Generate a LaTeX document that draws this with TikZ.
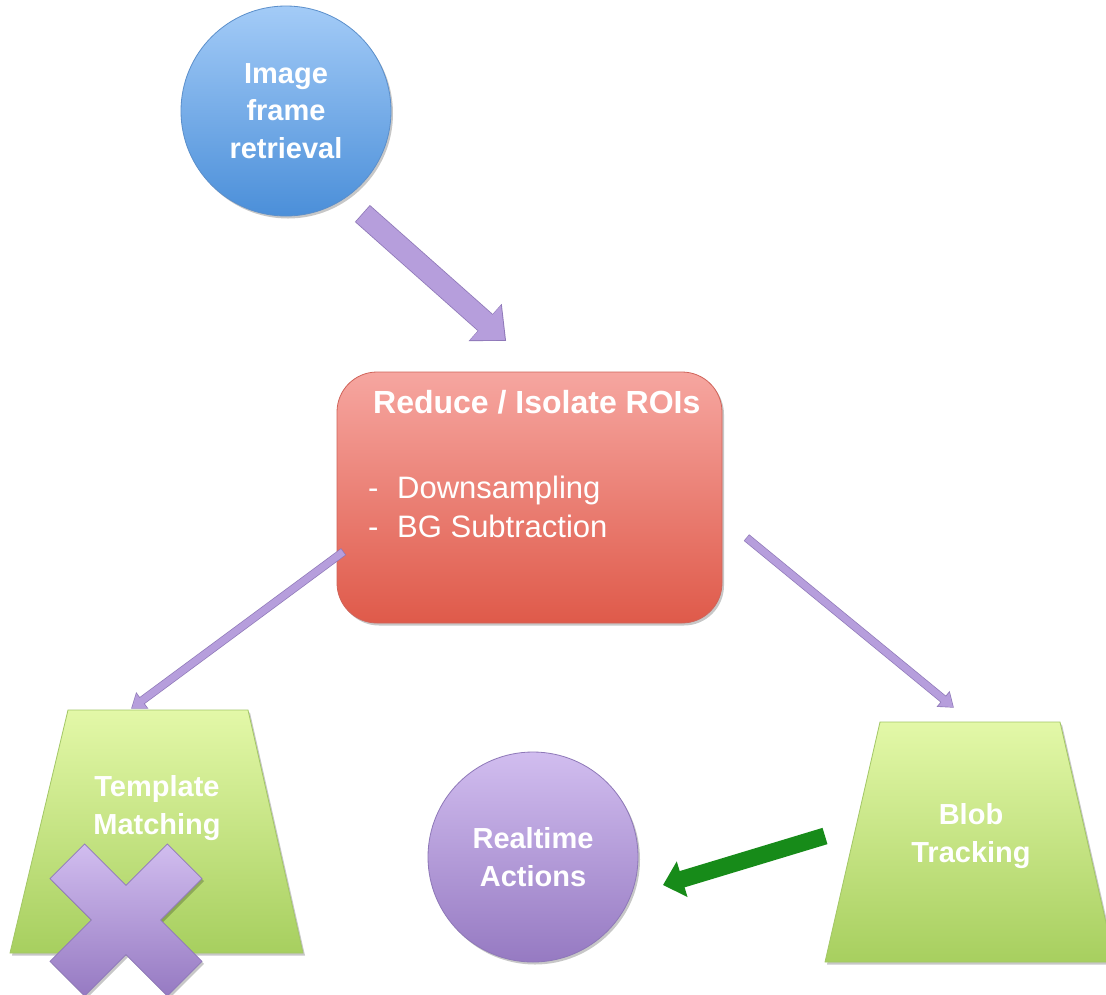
\documentclass[tikz,border=0pt]{standalone}
\usepackage{fontspec}
\setmainfont{Liberation Sans}
\usetikzlibrary{arrows.meta,shapes.geometric,shadows}
\definecolor{bluetop}{HTML}{A3CBF7}
\definecolor{bluebot}{HTML}{4B8FD9}
\definecolor{blueedge}{HTML}{5B8FCB}
\definecolor{redtop}{HTML}{F6A6A0}
\definecolor{redbot}{HTML}{DF5A4A}
\definecolor{rededge}{HTML}{D0645A}
\definecolor{greentop}{HTML}{E3F8A8}
\definecolor{greenbot}{HTML}{A7CF5F}
\definecolor{greenedge}{HTML}{A3C766}
\definecolor{purptop}{HTML}{D1BDEF}
\definecolor{purpbot}{HTML}{967AC2}
\definecolor{purpedge}{HTML}{8E78B8}
\definecolor{arrowpurp}{HTML}{B69EDC}
\definecolor{arrowgreen}{HTML}{178B19}
\definecolor{greenarrowedge}{HTML}{2E6E2A}
\begin{document}
\begin{tikzpicture}[x=1pt,y=-1pt,
  softshadow/.style={drop shadow={shadow xshift=2pt,shadow yshift=-2.5pt,opacity=0.22,fill=black}},
  lbl/.style={text=white,font=\fontsize{29}{37.7}\selectfont\bfseries,align=center},
  roitxt/.style={text=white,inner sep=0pt,anchor=base west,font=\fontsize{31}{37}\selectfont},
  bigarrow/.style={preaction={draw=purpedge,line width=22.6pt,-{Triangle[width=48pt,length=28pt]},shorten >=-1.5pt,shorten <=-0.8pt},
     line width=21pt,arrowpurp,-{Triangle[width=45pt,length=26pt]}},
  thinarrow/.style={preaction={draw=purpedge,line width=8.4pt,-{Triangle[width=19.5pt,length=14pt]},shorten >=-1.2pt,shorten <=-0.7pt},
     line width=7pt,arrowpurp,-{Triangle[width=17pt,length=12pt]}},
  greenarrow/.style={line width=17pt,arrowgreen,-{Triangle[width=36pt,length=20pt]}}]
\useasboundingbox[fill=white] (0,0) rectangle (1106,994);

% image frame retrieval
\node[circle,minimum size=210pt,inner sep=0pt,top color=bluetop,bottom color=bluebot,
      draw=blueedge,line width=0.8pt,softshadow,lbl] (img) at (286,111) {Image\\frame\\retrieval};

% reduce box
\node[rectangle,rounded corners=40pt,minimum width=385pt,minimum height=251pt,
      top color=redtop,bottom color=redbot,draw=rededge,line width=0.8pt,softshadow] (roi) at (529.5,497.5) {};
\node[roitxt,font=\fontsize{32}{37}\selectfont\bfseries] (roititle) at (373,413) {Reduce / Isolate ROIs};
\node[roitxt] (d1) at (368,498) {-};
\node[roitxt] (b1) at (397,498) {Downsampling};
\node[roitxt] (d2) at (368,537) {-};
\node[roitxt] (b2) at (397,537) {BG Subtraction};

% trapezoids
\path[top color=greentop,bottom color=greenbot,draw=greenedge,line width=0.8pt,softshadow]
  (68,710) -- (248,710) -- (303,953) -- (10,953) -- cycle;
\node[lbl] (tm) at (157,808) {Template\\Matching};
\coordinate (tmtop) at (132,708);

\path[top color=greentop,bottom color=greenbot,draw=greenedge,line width=0.8pt,softshadow]
  (880,722) -- (1060,722) -- (1115,962) -- (825,962) -- cycle;
\node[lbl] (bt) at (971,836) {Blob\\Tracking};
\coordinate (bttop) at (953,707);

% realtime actions
\node[circle,minimum size=210pt,inner sep=0pt,top color=purptop,bottom color=purpbot,
      draw=purpedge,line width=0.8pt,softshadow,lbl] (rt) at (533,857) {Realtime\\Actions};

% cross
\path[top color=purptop,bottom color=purpbot,draw=purpedge,line width=0.8pt,softshadow]
  (126,885.4) -- (167.4,844) -- (202,878.6) -- (160.6,920) -- (202,961.4) -- (167.4,996)
  -- (126,954.6) -- (84.6,996) -- (50,961.4) -- (91.4,920) -- (50,878.6) -- (84.6,844) -- cycle;

% connectors
\coordinate (a1s) at (363,214);
\coordinate (a1e) at (505,340);
\draw[bigarrow] (a1s) -- (a1e);
\coordinate (a2s) at (343,552);
\draw[thinarrow] (a2s) -- (tmtop);
\coordinate (a3s) at (747,538);
\draw[thinarrow] (a3s) -- (bttop);
\coordinate (gs) at (825,836);
\coordinate (ge) at (663,885);
\draw[greenarrow] (gs) -- (ge);
\end{tikzpicture}
\end{document}
